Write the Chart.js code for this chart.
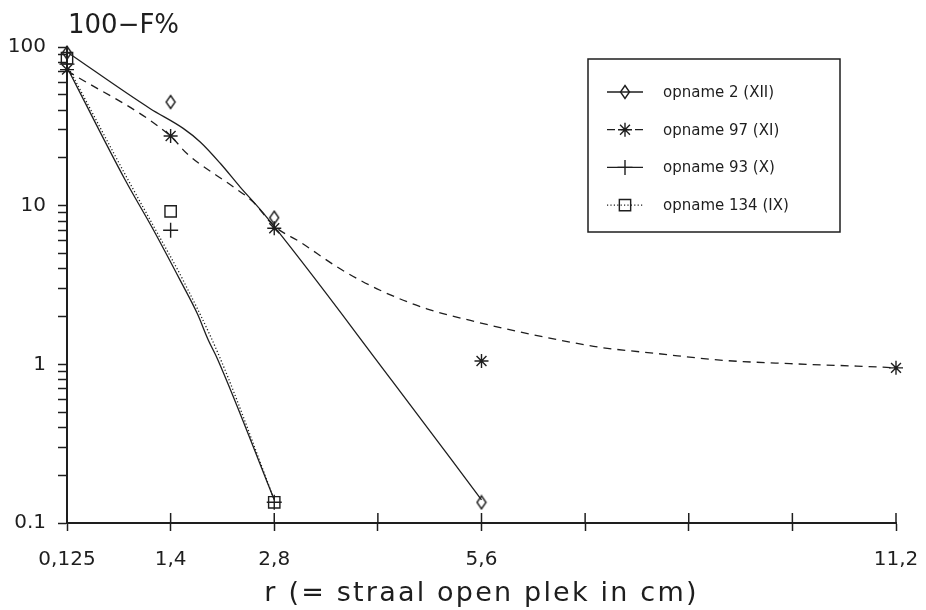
<!DOCTYPE html>
<html>
<head>
<meta charset="utf-8">
<script src="https://cdn.jsdelivr.net/npm/chart.js@4.4.1/dist/chart.umd.min.js"></script>
<style>
  html, body { margin: 0; padding: 0; background: #fff; }
</style>
</head>
<body>
<canvas id="chart" width="926" height="610"></canvas>
<script>
// radius axis: the first sample (0,125 cm) sits at the origin
const radius = [0, 1.4, 2.8, 5.6, 11.2];
const xTickValues = [0, 1.4, 2.8, 4.2, 5.6, 7.0, 8.4, 9.8, 11.2];
const xTickLabels = ['0,125', '1,4', '2,8', '', '5,6', '', '', '', '11,2'];
const yTickValues = [0.1, 1, 10, 100];
const yTickLabels = ['0.1', '1', '10', '100'];

const seriesNames = ['opname 2 (XII)', 'opname 97 (XI)', 'opname 93 (X)', 'opname 134 (IX)'];

// measured 100-F% per radius
const meas2 = [92, 45, 8.4, 0.135];
const meas97 = [72, 27.5, 7.2, 1.05, 0.95];
const meas93 = [78, 7, 0.135];
const meas134 = [85, 9.2, 0.135];

// fitted curves
const fit2X = [0, 1.12, 1.57, 1.80, 2.07, 2.34, 2.65, 4.39, 5.6];
const fit2Y = [93, 41, 30.7, 25.2, 18.5, 13.1, 9.0, 0.79, 0.14];
const fit97X = [0, 1.4, 1.62, 2.25, 2.52, 2.79, 3.15, 3.69, 4.23, 4.86, 5.45, 6.12, 6.80, 7.20, 7.97, 8.86, 9.77, 11.02, 11.2];
const fit97Y = [71, 27.4, 21.3, 13.1, 10.5, 7.5, 5.9, 4.0, 2.93, 2.24, 1.89, 1.60, 1.38, 1.28, 1.17, 1.06, 1.01, 0.96, 0.95];
const fit93X = [0, 0.79, 1.17, 1.53, 1.76, 1.91, 2.03, 2.8];
const fit93Y = [74.5, 14.4, 7.0, 3.38, 2.09, 1.42, 1.09, 0.14];
const fit134X = [0, 0.83, 1.2, 1.57, 2.07, 2.8];
const fit134Y = [77, 14.4, 7.0, 3.38, 1.09, 0.14];

const xTitle = 'r (= straal open plek in cm)';
const yTitle = '100\u2212F%';

const ink = '#1e1e1e';
const font = '"DejaVu Sans", sans-serif';

function pts(xs, ys) {
  return ys.map((y, i) => ({ x: xs[i], y: y }));
}

// tall open diamond used for opname 2
function diamondMarker() {
  const c = document.createElement('canvas');
  c.width = 12; c.height = 16;
  const g = c.getContext('2d');
  g.strokeStyle = ink;
  g.lineWidth = 1.4;
  g.beginPath();
  g.moveTo(6, 1.5); g.lineTo(10.5, 8); g.lineTo(6, 14.5); g.lineTo(1.5, 8);
  g.closePath();
  g.stroke();
  return c;
}

function curve(data, dash) {
  return {
    data: data,
    showLine: true,
    borderColor: ink,
    borderWidth: 1.3,
    borderDash: dash,
    pointRadius: 0,
    cubicInterpolationMode: 'monotone',
    fill: false
  };
}

function markers(data, style, r) {
  return {
    data: data,
    showLine: false,
    clip: false,
    pointStyle: style,
    pointRadius: r,
    pointHoverRadius: r,
    pointBorderColor: ink,
    pointBackgroundColor: 'rgba(0,0,0,0)',
    pointBorderWidth: 1.4
  };
}

const diamond = diamondMarker();

const datasets = [
  curve(pts(fit2X, fit2Y), []),
  curve(pts(fit97X, fit97Y), [8, 6]),
  curve(pts(fit93X, fit93Y), []),
  curve(pts(fit134X, fit134Y), [1.2, 2.2]),
  markers(pts(radius, meas2), diamond, 7),
  markers(pts(radius, meas97), 'star', 7),
  markers(pts(radius, meas93), 'cross', 7.5),
  markers(pts(radius, meas134), 'rect', 8)
];

// titles, upper halves of the x ticks and the boxed legend
const extras = {
  id: 'extras',
  afterDraw(chart) {
    const { ctx, chartArea, scales } = chart;
    ctx.save();
    ctx.strokeStyle = ink;
    ctx.lineWidth = 1.5;
    scales.x.ticks.forEach(t => {
      const px = scales.x.getPixelForValue(t.value);
      ctx.beginPath();
      ctx.moveTo(px, chartArea.bottom);
      ctx.lineTo(px, chartArea.bottom - 10);
      ctx.stroke();
    });

    ctx.fillStyle = ink;
    ctx.textBaseline = 'alphabetic';
    ctx.font = '26px ' + font;
    ctx.textAlign = 'left';
    ctx.fillText(yTitle, chartArea.left + 1, 33);

    ctx.save();
    ctx.font = '27px ' + font;
    ctx.letterSpacing = '2.2px';
    ctx.textAlign = 'center';
    ctx.fillText(xTitle, (chartArea.left + chartArea.right) / 2, 601);
    ctx.restore();

    // legend
    const bx = 588, by = 59, bw = 252, bh = 173;
    ctx.lineWidth = 1.5;
    ctx.strokeRect(bx, by, bw, bh);
    ctx.font = '15px ' + font;
    ctx.textBaseline = 'middle';
    seriesNames.forEach((name, i) => {
      const y = by + 33 + i * 37.7;
      const line = chart.data.datasets[i];
      const mark = chart.data.datasets[i + 4];
      ctx.save();
      ctx.lineWidth = line.borderWidth;
      ctx.setLineDash(line.borderDash);
      ctx.beginPath();
      ctx.moveTo(bx + 19, y);
      ctx.lineTo(bx + 55, y);
      ctx.stroke();
      ctx.restore();
      ctx.save();
      ctx.fillStyle = 'rgba(0,0,0,0)';
      ctx.lineWidth = mark.pointBorderWidth;
      Chart.helpers.drawPoint(ctx, {
        pointStyle: mark.pointStyle,
        radius: mark.pointRadius,
        borderWidth: mark.pointBorderWidth,
        rotation: 0
      }, bx + 37, y);
      ctx.restore();
      ctx.fillText(name, bx + 75, y + 1);
    });
    ctx.restore();
  }
};

new Chart(document.getElementById('chart'), {
  type: 'scatter',
  data: { datasets: datasets },
  plugins: [extras],
  options: {
    responsive: false,
    animation: false,
    devicePixelRatio: 1,
    layout: { padding: { top: 47, right: 30, left: 0, bottom: 0 } },
    plugins: {
      legend: { display: false },
      tooltip: { enabled: false }
    },
    scales: {
      x: {
        type: 'linear',
        min: 0,
        max: 11.2,
        afterBuildTicks: scale => {
          scale.ticks = xTickValues.map(v => ({ value: v }));
        },
        afterFit: scale => {
          scale.height = 87;
          // the end labels may overhang; keep the axis ends fixed
          scale.paddingLeft = 0;
          scale.paddingRight = 0;
        },
        ticks: {
          autoSkip: false,
          maxRotation: 0,
          color: ink,
          padding: 17,
          font: { family: font, size: 20 },
          callback: (v, i) => xTickLabels[i]
        },
        grid: {
          drawOnChartArea: false,
          drawTicks: true,
          tickLength: 8,
          tickWidth: 1.5,
          tickColor: ink
        },
        border: { color: ink, width: 2 }
      },
      y: {
        type: 'logarithmic',
        min: 0.1,
        max: 100,
        afterBuildTicks: scale => {
          const ticks = [];
          for (let d = 0; d < yTickValues.length - 1; d++) {
            for (let m = 1; m < 10; m++) ticks.push({ value: yTickValues[d] * m });
          }
          ticks.push({ value: yTickValues[yTickValues.length - 1] });
          scale.ticks = ticks;
        },
        afterFit: scale => {
          scale.width = 67;
          scale.paddingTop = 0;
          scale.paddingBottom = 0;
        },
        ticks: {
          autoSkip: false,
          color: ink,
          padding: 12,
          font: { family: font, size: 20 },
          callback: v => {
            const k = yTickValues.findIndex(t => Math.abs(t - v) < 1e-9 * t + 1e-12);
            return k >= 0 ? yTickLabels[k] : '';
          }
        },
        grid: {
          drawOnChartArea: false,
          drawTicks: true,
          tickLength: 9,
          tickWidth: 1.5,
          tickColor: ink
        },
        border: { color: ink, width: 2 }
      }
    }
  }
});
</script>
</body>
</html>
